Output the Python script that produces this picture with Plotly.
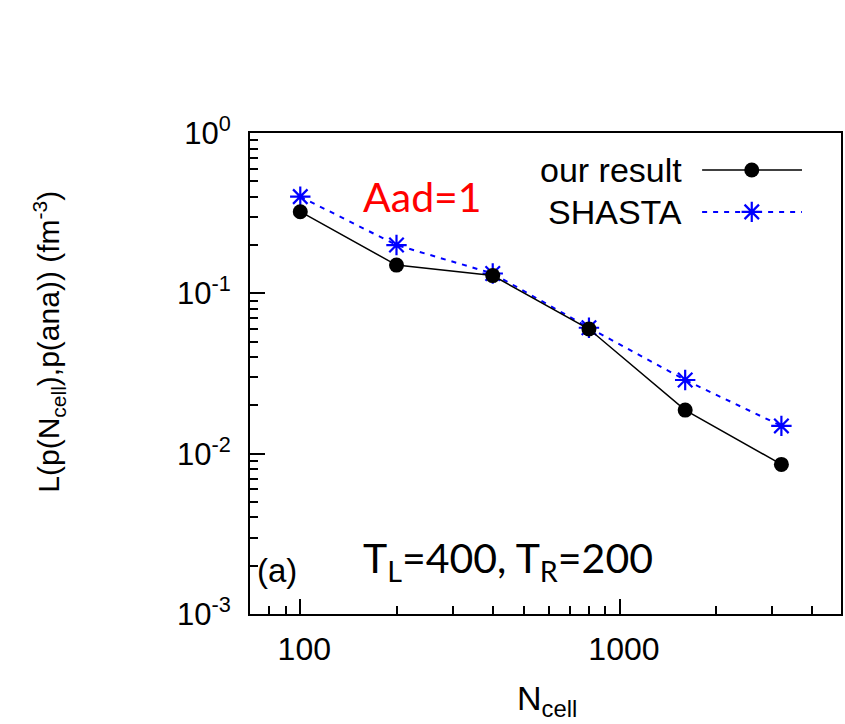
import plotly.graph_objects as go

# ---- data ----
n_cell = [100, 200, 400, 800, 1600, 3200]
our_result = [0.323, 0.150, 0.129, 0.0599, 0.0187, 0.00857]
shasta = [0.401, 0.200, 0.133, 0.061, 0.0288, 0.0149]

x_tickvals = [100, 1000]
x_ticktext = ["100", "1000"]
x_minor = [70, 80, 90, 200, 300, 400, 500, 600, 700, 800, 900, 2000, 3000, 4000]
y_tickvals = [1e-3, 1e-2, 1e-1, 1]
y_ticktext = ["10<sup>-3</sup>", "10<sup>-2</sup>", "10<sup>-1</sup>", "10<sup>0</sup>"]
y_minor = [m * 10.0 ** e for e in (-3, -2, -1) for m in range(2, 10)]

# legend sample positions (fraction of plot area)
leg_x = [0.765, 0.849, 0.934]
leg_y_our = 0.923
leg_y_sha = 0.836

GP_FONT = "Liberation Sans, Arial, sans-serif"
PPT_FONT = "Lato, Open Sans, sans-serif"
BLUE = "#0000ff"

L, R, T, B = 250, 2, 133, 110
W, H = 845, 724
PW, PH = W - L - R, H - T - B


def px(x):
    return (x - L) / PW


def py(y):
    return 1 - (y - T) / PH


fig = go.Figure()

fig.add_trace(go.Scatter(
    x=n_cell, y=shasta, mode="lines+markers", name="SHASTA",
    line=dict(color=BLUE, width=2, dash="5px,6px"),
    marker=dict(symbol="asterisk-open", size=17, color=BLUE, line=dict(color=BLUE, width=2.2)),
    showlegend=False))
fig.add_trace(go.Scatter(
    x=n_cell, y=our_result, mode="lines+markers", name="our result",
    line=dict(color="black", width=1.5),
    marker=dict(symbol="circle", size=15, color="black"),
    showlegend=False))

# legend samples on overlay axes
fig.add_trace(go.Scatter(
    x=leg_x, y=[leg_y_our] * 3, mode="lines", line=dict(color="black", width=1.5),
    xaxis="x2", yaxis="y2", showlegend=False, hoverinfo="skip"))
fig.add_trace(go.Scatter(
    x=[leg_x[1]], y=[leg_y_our], mode="markers", marker=dict(symbol="circle", size=15, color="black"),
    xaxis="x2", yaxis="y2", showlegend=False, hoverinfo="skip"))
fig.add_trace(go.Scatter(
    x=leg_x, y=[leg_y_sha] * 3, mode="lines", line=dict(color=BLUE, width=2, dash="5px,6px"),
    xaxis="x2", yaxis="y2", showlegend=False, hoverinfo="skip"))
fig.add_trace(go.Scatter(
    x=[leg_x[1]], y=[leg_y_sha], mode="markers",
    marker=dict(symbol="asterisk-open", size=17, color=BLUE, line=dict(color=BLUE, width=2.2)),
    xaxis="x2", yaxis="y2", showlegend=False, hoverinfo="skip"))

tick_common = dict(
    showgrid=False, zeroline=False, ticks="inside", ticklen=15, tickwidth=2, tickcolor="black",
)

x_range = [1.8427, 3.6916]
y_range = [-3, 0]

fig.update_layout(
    width=W, height=H,
    margin=dict(l=L, r=R, t=T, b=B),
    paper_bgcolor="white", plot_bgcolor="white",
    xaxis=dict(
        type="log", range=x_range,
        tickmode="array", tickvals=x_tickvals, ticktext=x_ticktext,
        minor=dict(tickmode="array", tickvals=x_minor, ticks="inside", ticklen=8,
                   tickwidth=2, tickcolor="black", showgrid=False),
        showline=True, linecolor="black", linewidth=2, mirror=True,
        tickfont=dict(family=GP_FONT, size=32, color="black"),
        ticklabelstandoff=6, ticklabelshift=4,
        **tick_common),
    yaxis=dict(
        type="log", range=y_range,
        tickmode="array", tickvals=y_tickvals, ticktext=y_ticktext,
        minor=dict(tickmode="array", tickvals=y_minor, ticks="inside", ticklen=8,
                   tickwidth=2, tickcolor="black", showgrid=False),
        showline=True, linecolor="black", linewidth=2, mirror=True,
        tickfont=dict(family=GP_FONT, size=31, color="black"),
        ticklabelstandoff=11,
        **tick_common),
    xaxis3=dict(
        type="log", range=x_range, overlaying="x", side="top", anchor="y",
        tickmode="array", tickvals=x_tickvals, showticklabels=False, showline=False,
        minor=dict(tickmode="array", tickvals=x_minor, ticks="inside", ticklen=8,
                   tickwidth=2, tickcolor="black", showgrid=False),
        **tick_common),
    yaxis3=dict(
        type="log", range=y_range, overlaying="y", side="right", anchor="x",
        tickmode="array", tickvals=y_tickvals, showticklabels=False, showline=False,
        minor=dict(tickmode="array", tickvals=y_minor, ticks="inside", ticklen=8,
                   tickwidth=2, tickcolor="black", showgrid=False),
        **tick_common),
    xaxis2=dict(overlaying="x", range=[0, 1], visible=False, anchor="y2"),
    yaxis2=dict(overlaying="y", range=[0, 1], visible=False, anchor="x2"),
    annotations=[
        dict(text="L(p(N<sub>cell</sub>),p(ana)) (fm<sup>-3</sup>)", xref="paper", yref="paper",
             x=px(48), y=py(342), textangle=-90, xanchor="center", yanchor="middle", showarrow=False,
             font=dict(family=GP_FONT, size=30, color="black")),
        dict(text="N<sub>cell</sub>", xref="paper", yref="paper", x=px(548), y=py(677),
             xanchor="center", yanchor="top", showarrow=False,
             font=dict(family=GP_FONT, size=34, color="black")),
        dict(text="Aad=1", xref="paper", yref="paper", x=px(361), y=py(196),
             xanchor="left", yanchor="middle", showarrow=False,
             font=dict(family=PPT_FONT, size=41, color="red")),
        dict(text="T<sub>L</sub>=400, T<sub>R</sub>=200", xref="paper", yref="paper",
             x=px(361), y=py(560),
             xanchor="left", yanchor="middle", showarrow=False,
             font=dict(family=PPT_FONT, size=41, color="black")),
        dict(text="(a)", xref="paper", yref="paper", x=px(255), y=py(570),
             xanchor="left", yanchor="middle", showarrow=False,
             font=dict(family=GP_FONT, size=33, color="black")),
        dict(text="our result", xref="paper", yref="paper", x=px(685), y=leg_y_our,
             xanchor="right", yanchor="middle", showarrow=False,
             font=dict(family=GP_FONT, size=34, color="black")),
        dict(text="SHASTA", xref="paper", yref="paper", x=px(685), y=leg_y_sha,
             xanchor="right", yanchor="middle", showarrow=False,
             font=dict(family=GP_FONT, size=34, color="black")),
    ],
)

fig.write_html("out.html", config={"displayModeBar": False},
               post_script="document.body.style.margin='0';document.body.style.overflow='hidden';")
